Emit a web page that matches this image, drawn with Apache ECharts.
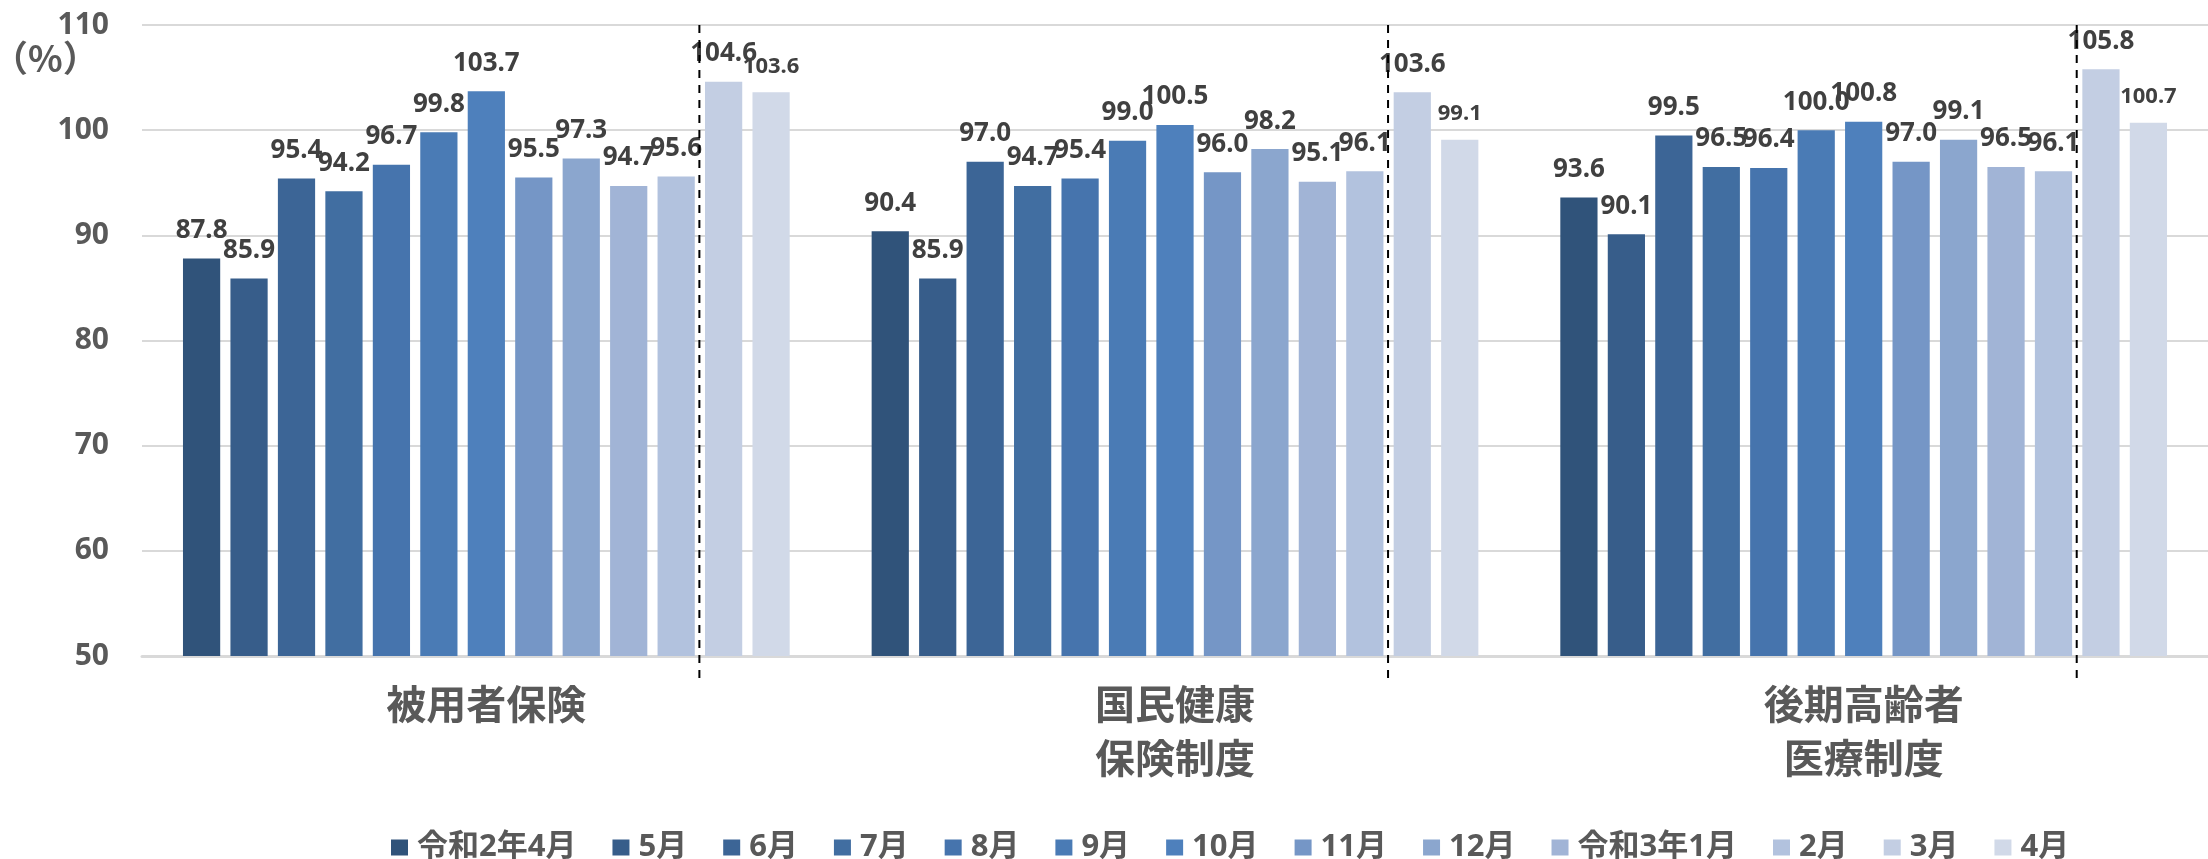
<!DOCTYPE html>
<html>
<head>
<meta charset="utf-8">
<script src="https://cdn.jsdelivr.net/npm/echarts@6/dist/echarts.min.js"></script>
<style>
  html, body { margin: 0; padding: 0; background: #fff; }
  #chart { width: 2208px; height: 859px; }
</style>
</head>
<body>
<div id="chart"></div>
<script>
// カテゴリ（制度）
const categories = ['被用者保険', '国民健康\n保険制度', '後期高齢者\n医療制度']
// 月（凡例）
const months = ['令和2年4月', '5月', '6月', '7月', '8月', '9月', '10月', '11月', '12月', '令和3年1月', '2月', '3月', '4月']
// 各制度の対前年同月比（%）
const hihoken = [87.8, 85.9, 95.4, 94.2, 96.7, 99.8, 103.7, 95.5, 97.3, 94.7, 95.6, 104.6, 103.6]
const kokuho = [90.4, 85.9, 97.0, 94.7, 95.4, 99.0, 100.5, 96.0, 98.2, 95.1, 96.1, 103.6, 99.1]
const kouki = [93.6, 90.1, 99.5, 96.5, 96.4, 100.0, 100.8, 97.0, 99.1, 96.5, 96.1, 105.8, 100.7]
const yTicks = { min: 50, max: 110, interval: 10 }

const colors = ['#30537A', '#375D8A', '#3C6596', '#416EA1', '#4674AD', '#4A7BB5', '#4E80BC',
  '#7596C6', '#8BA6CE', '#A1B4D6', '#B2C2DE', '#C3CEE3', '#D1D9E8']

const FONT = "'Noto Sans', 'Noto Sans CJK JP', sans-serif"
const CAT_GAP = 0.119
const BAR_GAP = 0.275
const SPLIT_AFTER = 10 // 2月と3月の間に破線

const barSeries = months.map((m, i) => ({
  name: m,
  type: 'bar',
  data: [hihoken[i], kokuho[i], kouki[i]],
  barGap: BAR_GAP * 100 + '%',
  barCategoryGap: CAT_GAP * 100 + '%',
  itemStyle: { color: colors[i] },
  label: {
    show: true,
    position: 'top',
    distance: 15,
    color: '#404040',
    fontFamily: FONT,
    fontWeight: 'bold',
    fontSize: i === months.length - 1 ? 22 : 26,
    formatter: p => p.value.toFixed(1)
  }
}))

// 破線（2月と3月の境界）
const dividerSeries = {
  type: 'custom',
  silent: true,
  z: 10,
  clip: false,
  data: categories.map(c => [c, yTicks.max]),
  encode: { x: 0, y: 1 },
  renderItem: (params, api) => {
    const top = api.coord([api.value(0), api.value(1)])
    const bottom = api.coord([api.value(0), yTicks.min])
    const band = api.size([1, 0])[0]
    const n = months.length
    const w = band * (1 - CAT_GAP) / (n + (n - 1) * BAR_GAP)
    const start = top[0] - band * (1 - CAT_GAP) / 2
    const x = start + SPLIT_AFTER * w * (1 + BAR_GAP) + w + w * BAR_GAP * 0.45
    return {
      type: 'line',
      shape: { x1: x, y1: top[1], x2: x, y2: bottom[1] + 24 },
      style: { stroke: '#000', lineWidth: 2, lineDash: [8, 7] }
    }
  }
}

const chart = echarts.init(document.getElementById('chart'))
chart.setOption({
  animation: false,
  backgroundColor: '#fff',
  grid: { left: 142, right: -11, top: 25, bottom: 203 },
  title: {
    text: '（%）',
    left: -8,
    top: 40,
    padding: 0,
    textStyle: {
      fontFamily: 'Noto Sans CJK JP',
      fontSize: 36,
      fontWeight: 'bold',
      color: '#595959'
    }
  },
  legend: {
    data: months,
    left: 386,
    top: 827,
    itemWidth: 17,
    itemHeight: 16,
    itemGap: 36,
    icon: 'rect',
    textStyle: { fontFamily: FONT, fontSize: 31, fontWeight: 'bold', color: '#595959', padding: [0, 0, 0, 4] }
  },
  xAxis: {
    type: 'category',
    data: categories,
    axisTick: { show: false },
    axisLine: { lineStyle: { color: '#D9D9D9', width: 3 } },
    axisLabel: {
      margin: 25,
      fontFamily: FONT,
      fontSize: 40,
      lineHeight: 54,
      fontWeight: 'bold',
      color: '#595959'
    }
  },
  yAxis: {
    type: 'value',
    min: yTicks.min,
    max: yTicks.max,
    interval: yTicks.interval,
    axisLine: { show: false },
    axisTick: { show: false },
    splitLine: { lineStyle: { color: '#D9D9D9', width: 2 } },
    axisLabel: {
      margin: 33,
      fontFamily: FONT,
      fontSize: 30,
      fontWeight: 'bold',
      color: '#595959'
    }
  },
  series: [...barSeries, dividerSeries]
})
</script>
</body>
</html>
